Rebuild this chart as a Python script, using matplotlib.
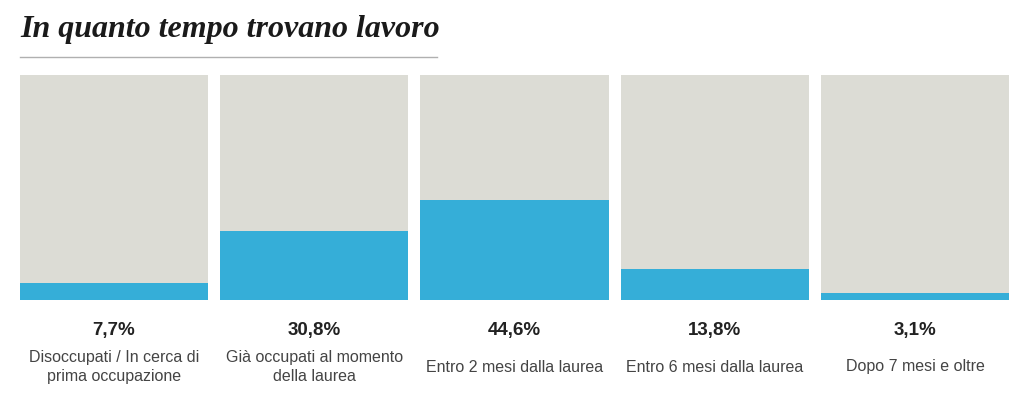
import matplotlib
matplotlib.use("Agg")
import matplotlib.pyplot as plt
from matplotlib import font_manager

# data
categories = [
    "Disoccupati / In cerca di\nprima occupazione",
    "Già occupati al momento\ndella laurea",
    "Entro 2 mesi dalla laurea",
    "Entro 6 mesi dalla laurea",
    "Dopo 7 mesi e oltre",
]
values = [7.7, 30.8, 44.6, 13.8, 3.1]
value_labels = ["7,7%", "30,8%", "44,6%", "13,8%", "3,1%"]
full_scale = 100

title = "In quanto tempo trovano lavoro"

BLUE = "#35aed8"
PANEL = "#dcdcd5"

names = {f.name for f in font_manager.fontManager.ttflist}
narrow = ["Liberation Sans Narrow"] if "Liberation Sans Narrow" in names else []
sans = narrow + ["Liberation Sans", "DejaVu Sans"]
cat_size = 13 if narrow else 11.5

W, H = 1024, 400
fig = plt.figure(figsize=(W / 100, H / 100), dpi=100)

# panels span x 20..1009, y 75..300 (pixels)
ax = fig.add_axes([20 / W, 1 - 300 / H, 989 / W, 225 / H])
w = 0.939
x = list(range(len(values)))
ax.bar(x, [full_scale] * len(values), width=w, color=PANEL, zorder=1)
ax.bar(x, values, width=w, color=BLUE, zorder=2)
ax.set_xlim(-w / 2, len(values) - 1 + w / 2)
ax.set_ylim(0, full_scale)
ax.axis("off")

for i, (lab, cat) in enumerate(zip(value_labels, categories)):
    xf = (20 + 989 * (i + w / 2) / (len(values) - 1 + w)) / W
    fig.text(xf, 1 - 330 / H, lab, ha="center", va="center",
             fontsize=13.5, fontweight="bold", family=sans, color="#222222")
    fig.text(xf, 1 - 367 / H, cat, ha="center", va="center",
             fontsize=cat_size, family=sans, color="#444444", linespacing=1.35)

fig.text(20 / W, 1 - 29 / H, title, ha="left", va="center",
         fontsize=23, fontweight="bold", fontstyle="italic",
         family=["Liberation Serif", "DejaVu Serif"], color="#1a1a1a")
fig.add_artist(plt.Line2D([20 / W, 437 / W], [1 - 57 / H, 1 - 57 / H],
                          color="#b0b0b0", lw=1))

fig.savefig("out.png", dpi=100, facecolor="white")
